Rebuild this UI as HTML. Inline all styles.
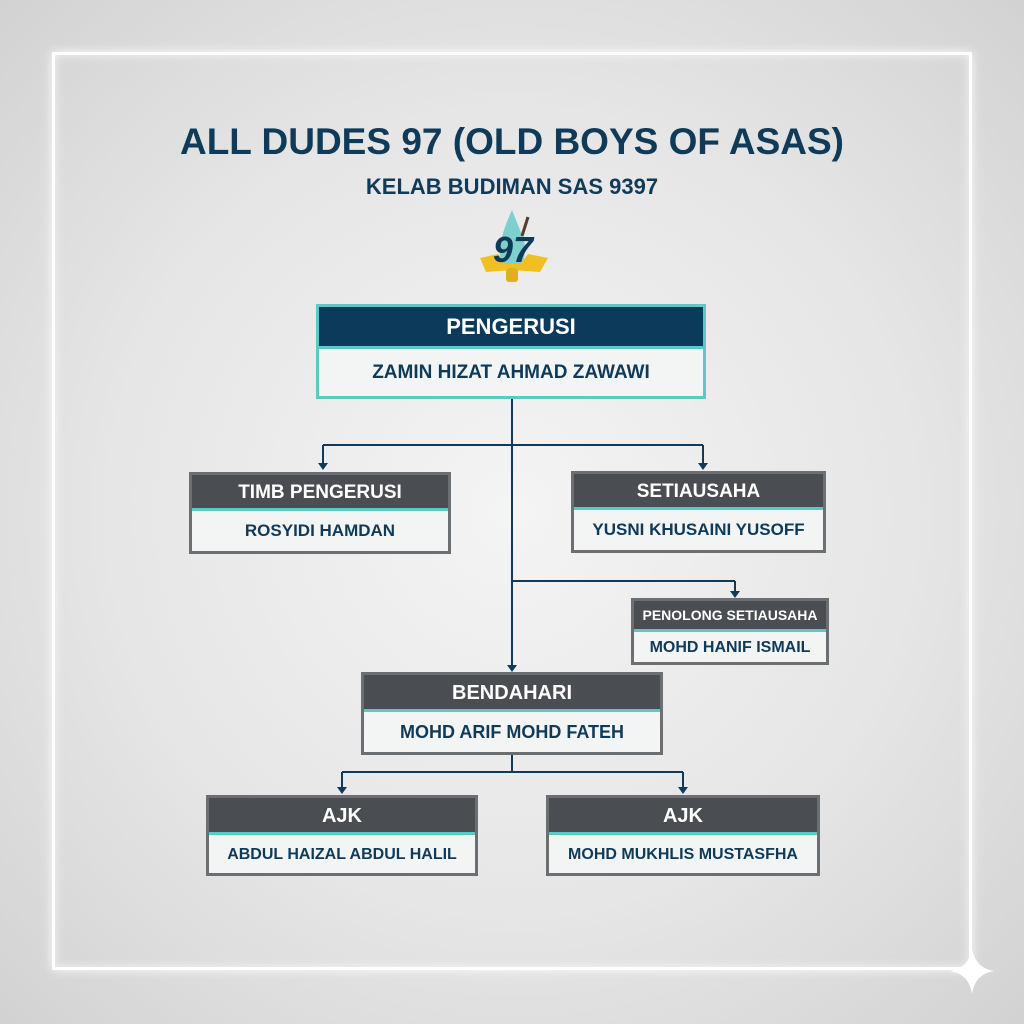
<!DOCTYPE html>
<html><head><style>
html,body{margin:0;padding:0}
body{width:1024px;height:1024px;position:relative;overflow:hidden;
background:radial-gradient(ellipse at 50% 50%,#f4f4f4 0%,#e6e6e6 55%,#d2d2d2 100%);
font-family:"Liberation Sans",sans-serif}
.frame{position:absolute;left:52px;top:52px;width:914px;height:912px;border:3px solid #fff;
box-shadow:0 0 10px rgba(255,255,255,0.9),inset 0 0 10px rgba(255,255,255,0.7)}
.t{position:absolute;left:0;width:1024px;text-align:center;color:#0f3a58;font-weight:bold}
.box{position:absolute;box-sizing:border-box;border:3px solid #6c6f72;background:#f3f4f4}
.box .h{background:#4a4d51;color:#fff;font-weight:bold;text-align:center;border-bottom:3px solid #5ec8c4;box-sizing:border-box}
.box .b{color:#0f3a58;font-weight:bold;text-align:center}
</style></head><body>
<div class="frame"></div>
<svg style="position:absolute;left:0;top:0" width="1024" height="1024">
<path d="M972 948 Q975 968 994 971 Q975 974 972 994 Q969 974 950 971 Q969 968 972 948Z" fill="#fff"/>
<path d="M512 210 Q498 240 500 258 Q506 270 516 268 Q528 262 524 240 Z" fill="#7fcfcf"/>
<path d="M480 258 L498 254 L505 264 L520 264 L528 254 L548 258 L540 272 L512 270 L486 272 Z" fill="#f0c020"/>
<rect x="506" y="268" width="12" height="14" rx="3" fill="#e0b020"/>
<line x1="528" y1="217" x2="522" y2="236" stroke="#5a3a2a" stroke-width="3"/>
<text x="513" y="262" text-anchor="middle" font-family="Liberation Sans" font-weight="bold" font-size="36" fill="#0f3a58" font-style="italic">97</text>
<g stroke="#0f3a58" stroke-width="2" fill="none">
<line x1="512" y1="398" x2="512" y2="666"/>
<line x1="323" y1="445" x2="703" y2="445"/>
<line x1="323" y1="445" x2="323" y2="464"/>
<line x1="703" y1="445" x2="703" y2="464"/>
<line x1="512" y1="581" x2="735" y2="581"/>
<line x1="735" y1="581" x2="735" y2="592"/>
<line x1="512" y1="754" x2="512" y2="772"/>
<line x1="342" y1="772" x2="683" y2="772"/>
<line x1="342" y1="772" x2="342" y2="788"/>
<line x1="683" y1="772" x2="683" y2="788"/>
</g>
<g fill="#0f3a58">
<path d="M318 463 L328 463 L323 470Z"/><path d="M698 463 L708 463 L703 470Z"/>
<path d="M730 591 L740 591 L735 598Z"/><path d="M507 665 L517 665 L512 672Z"/>
<path d="M337 787 L347 787 L342 794Z"/><path d="M678 787 L688 787 L683 794Z"/>
</g>
</svg>
<div class="t" style="top:121px;font-size:37px">ALL DUDES 97 (OLD BOYS OF ASAS)</div>
<div class="t" style="top:174px;font-size:22px">KELAB BUDIMAN SAS 9397</div>

<div class="box" style="left:316px;top:304px;width:390px;height:95px;border-color:#5ec8c4">
<div class="h" style="background:#0b3a5a;border-bottom:3px solid #5ec8c4;height:42px;line-height:40px;font-size:22px">PENGERUSI</div>
<div class="b" style="line-height:48px;font-size:19px">ZAMIN HIZAT AHMAD ZAWAWI</div></div>

<div class="box" style="left:189px;top:472px;width:262px;height:82px">
<div class="h" style="height:36px;line-height:36px;font-size:19px">TIMB PENGERUSI</div>
<div class="b" style="line-height:40px;font-size:17px">ROSYIDI HAMDAN</div></div>

<div class="box" style="left:571px;top:471px;width:255px;height:82px">
<div class="h" style="height:36px;line-height:36px;font-size:19px">SETIAUSAHA</div>
<div class="b" style="line-height:40px;font-size:17px">YUSNI KHUSAINI YUSOFF</div></div>

<div class="box" style="left:631px;top:598px;width:198px;height:67px">
<div class="h" style="height:31px;line-height:29px;font-size:14px">PENOLONG SETIAUSAHA</div>
<div class="b" style="line-height:32px;font-size:16px">MOHD HANIF ISMAIL</div></div>

<div class="box" style="left:361px;top:672px;width:302px;height:83px">
<div class="h" style="height:37px;line-height:36px;font-size:20px">BENDAHARI</div>
<div class="b" style="line-height:41px;font-size:18px">MOHD ARIF MOHD FATEH</div></div>

<div class="box" style="left:206px;top:795px;width:272px;height:81px">
<div class="h" style="height:37px;line-height:36px;font-size:20px">AJK</div>
<div class="b" style="line-height:40px;font-size:16px">ABDUL HAIZAL ABDUL HALIL</div></div>

<div class="box" style="left:546px;top:795px;width:274px;height:81px">
<div class="h" style="height:37px;line-height:36px;font-size:20px">AJK</div>
<div class="b" style="line-height:40px;font-size:16px">MOHD MUKHLIS MUSTASFHA</div></div>
</body></html>
